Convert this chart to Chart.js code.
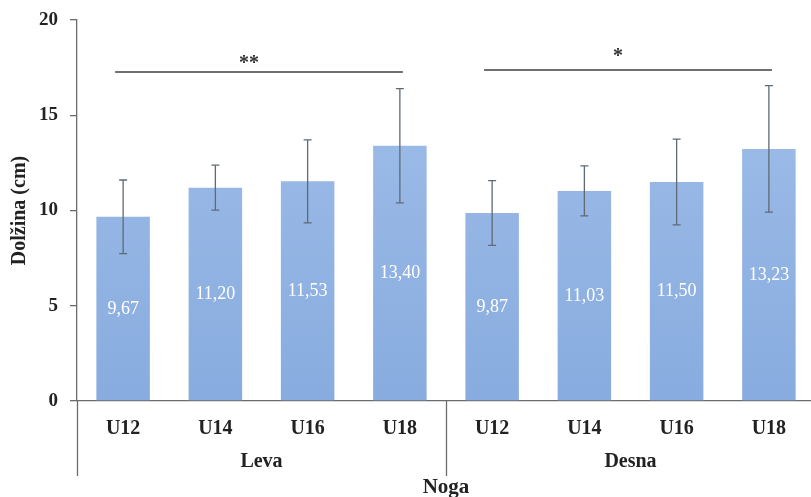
<!DOCTYPE html>
<html>
<head>
<meta charset="utf-8">
<script src="https://cdn.jsdelivr.net/npm/chart.js@4/dist/chart.umd.min.js"></script>
<style>
  html, body { margin: 0; padding: 0; background: #fff; overflow: hidden; }
  #wrap { width: 818px; height: 497px; }
</style>
</head>
<body>
<div id="wrap"><canvas id="chart" width="818" height="497"></canvas></div>
<script>
(() => {
  "use strict";

  const categories = ["U12", "U14", "U16", "U18", "U12", "U14", "U16", "U18"];
  const groups = ["Leva", "Desna"];
  const groupSize = 4;
  const means = [9.67, 11.20, 11.53, 13.40, 9.87, 11.03, 11.50, 13.23];
  const sds = [1.93, 1.18, 2.18, 3.0, 1.70, 1.31, 2.25, 3.32];
  const valueLabels = ["9,67", "11,20", "11,53", "13,40", "9,87", "11,03", "11,50", "13,23"];
  const sigFrom = [0, 4];
  const sigTo = [3, 7];
  const sigLevel = [17.27, 17.37];
  const sigMarks = ["**", "*"];
  const sigMarkLevel = [17.85, 18.2];
  const yTicks = [0, 5, 10, 15, 20];

  const SERIF = "'Liberation Serif', 'Times New Roman', serif";
  const TEXT = "#222";
  const AXIS = "#6b6b6b";

  const overlay = {
    id: "overlay",
    afterDatasetsDraw(chart) {
      const { ctx, chartArea } = chart;
      const y = chart.scales.y;
      const bars = chart.getDatasetMeta(0).data;

      ctx.save();

      // error bars
      ctx.strokeStyle = "#5f6a75";
      ctx.lineWidth = 1.3;
      bars.forEach((bar, i) => {
        const top = y.getPixelForValue(means[i] + sds[i]);
        const bot = y.getPixelForValue(means[i] - sds[i]);
        ctx.beginPath();
        ctx.moveTo(bar.x, top); ctx.lineTo(bar.x, bot);
        ctx.moveTo(bar.x - 4, top); ctx.lineTo(bar.x + 4, top);
        ctx.moveTo(bar.x - 4, bot); ctx.lineTo(bar.x + 4, bot);
        ctx.stroke();
      });

      // value labels in the middle of each bar
      ctx.fillStyle = "#ffffff";
      ctx.font = `18px ${SERIF}`;
      ctx.textAlign = "center";
      ctx.textBaseline = "middle";
      bars.forEach((bar, i) => {
        ctx.fillText(valueLabels[i], bar.x, y.getPixelForValue(means[i] / 2));
      });

      // significance brackets
      ctx.strokeStyle = "#6e6e6e";
      ctx.lineWidth = 2;
      ctx.fillStyle = "#333";
      ctx.font = `bold 20px ${SERIF}`;
      ctx.textBaseline = "alphabetic";
      sigFrom.forEach((a, k) => {
        const x1 = bars[a].x - 8;
        const x2 = bars[sigTo[k]].x + 3;
        const ly = y.getPixelForValue(sigLevel[k]);
        ctx.beginPath();
        ctx.moveTo(x1, ly); ctx.lineTo(x2, ly);
        ctx.stroke();
        ctx.fillText(sigMarks[k], (x1 + x2) / 2 - 10, y.getPixelForValue(sigMarkLevel[k]) + 8);
      });

      // group dividers below the axis
      const step = bars[1].x - bars[0].x;
      ctx.strokeStyle = AXIS;
      ctx.lineWidth = 1.3;
      const bottom = chartArea.bottom;
      for (let g = 0; g <= groups.length; g++) {
        const idx = g * groupSize;
        const x = idx < bars.length ? bars[idx].x - step / 2 : bars[bars.length - 1].x + step / 2;
        ctx.beginPath();
        ctx.moveTo(Math.round(x) + 0.5, bottom);
        ctx.lineTo(Math.round(x) + 0.5, bottom + 75);
        ctx.stroke();
      }

      // group labels
      ctx.fillStyle = TEXT;
      ctx.font = `bold 20px ${SERIF}`;
      ctx.textBaseline = "middle";
      groups.forEach((name, g) => {
        const a = bars[g * groupSize].x;
        const b = bars[g * groupSize + groupSize - 1].x;
        ctx.fillText(name, (a + b) / 2, bottom + 61);
      });

      // outer axis title
      ctx.font = `bold 21px ${SERIF}`;
      const mid = (bars[groupSize - 1].x + bars[groupSize].x) / 2;
      ctx.fillText("Noga", mid, bottom + 87);

      ctx.restore();
    }
  };

  const canvas = document.getElementById("chart");
  const c2d = canvas.getContext("2d");
  const grad = c2d.createLinearGradient(0, 20, 0, 401);
  grad.addColorStop(0, "#a2c0ea");
  grad.addColorStop(1, "#88acdf");

  new Chart(canvas, {
    type: "bar",
    data: {
      labels: categories,
      datasets: [{
        data: means,
        backgroundColor: grad,
        borderWidth: 0,
        barPercentage: 0.58,
        categoryPercentage: 1
      }]
    },
    options: {
      responsive: false,
      animation: false,
      events: [],
      layout: { padding: { left: 0, right: 3, top: 20, bottom: 0 } },
      plugins: {
        legend: { display: false },
        tooltip: { enabled: false }
      },
      scales: {
        x: {
          grid: { display: false, drawTicks: false },
          border: { display: true, color: AXIS, width: 1.3 },
          ticks: { color: TEXT, padding: 16, font: { family: SERIF, size: 20, weight: "bold" } },
          afterFit(scale) { scale.height = 96; }
        },
        y: {
          min: 0,
          max: 20,
          afterBuildTicks(scale) { scale.ticks = yTicks.map(v => ({ value: v })); },
          grid: { drawOnChartArea: false, drawTicks: true, tickLength: 7, color: AXIS, lineWidth: 1.3 },
          border: { display: true, color: AXIS, width: 1.3 },
          ticks: { color: TEXT, padding: 12, font: { family: SERIF, size: 19, weight: "bold" } },
          title: {
            display: true,
            text: "Dolžina (cm)",
            color: TEXT,
            padding: { top: 8, bottom: 0 },
            font: { family: SERIF, size: 20, weight: "bold" }
          },
          afterFit(scale) {
            scale.width = 77;
            scale.paddingTop = 0;
            scale.paddingBottom = 0;
          }
        }
      }
    },
    plugins: [overlay]
  });
})();
</script>
</body>
</html>
